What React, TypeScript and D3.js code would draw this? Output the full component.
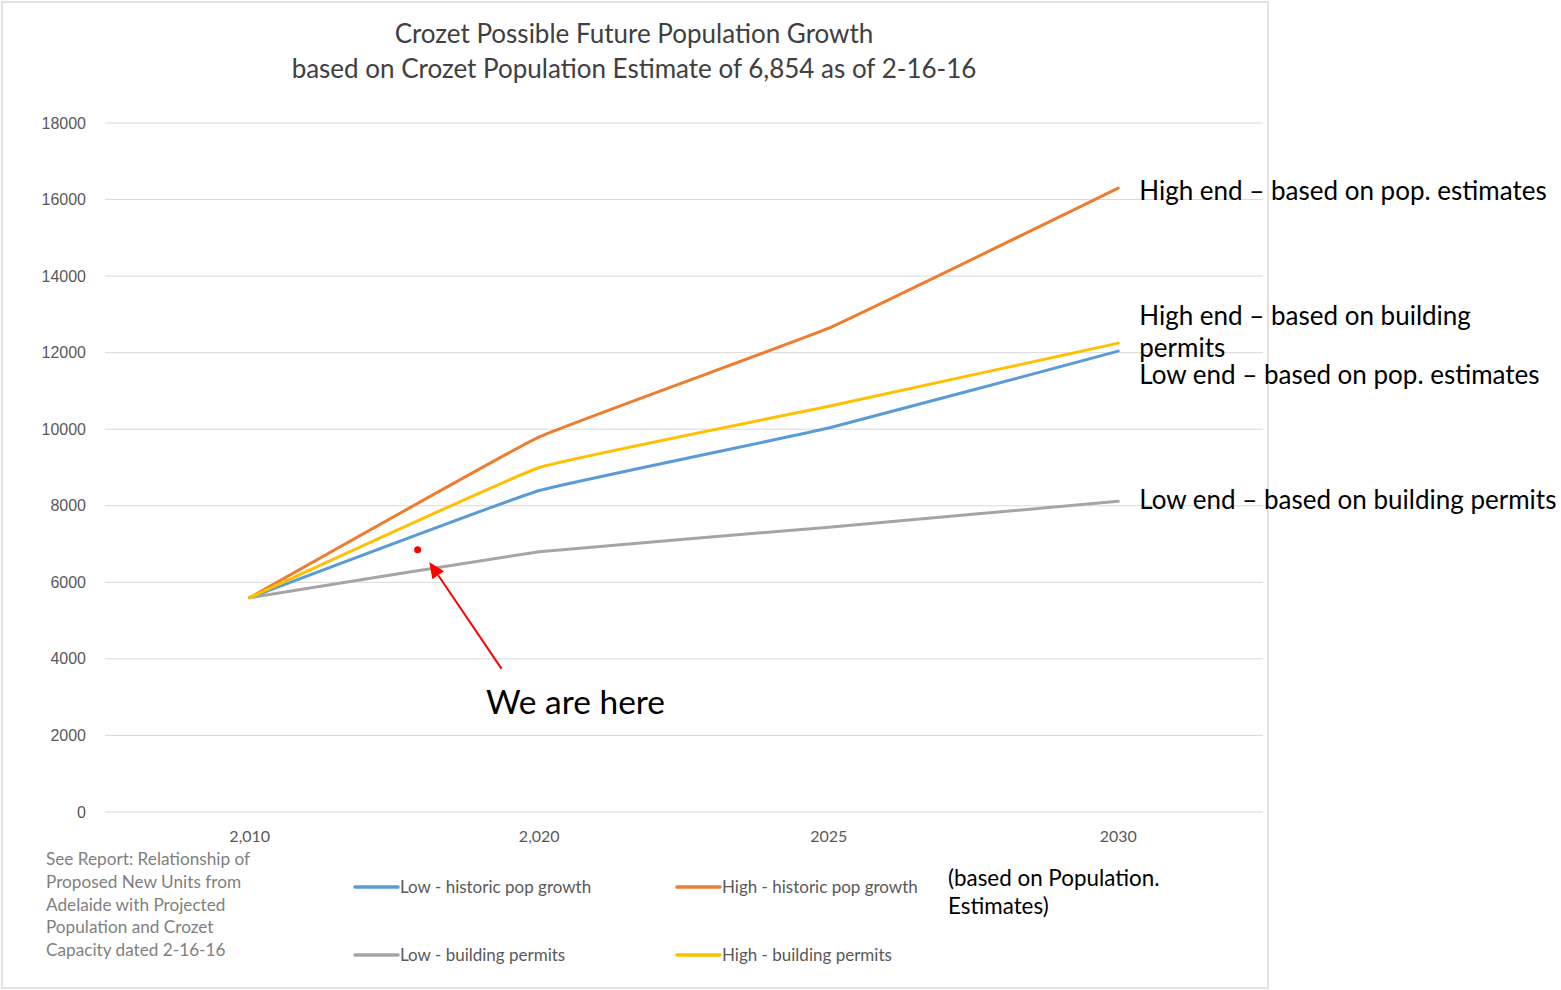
import React from "react";
import * as d3 from "d3";

const years = ["2,010", "2,020", "2025", "2030"];
const lowHistoric = [5600, 8400, 10030, 12040];
const highHistoric = [5600, 9800, 12640, 16300];
const lowPermits = [5600, 6800, 7440, 8120];
const highPermits = [5600, 9000, 10600, 12250];
const yTicks = [0, 2000, 4000, 6000, 8000, 10000, 12000, 14000, 16000, 18000];

const seriesNames = ["Low - historic pop growth", "High - historic pop growth", "Low - building permits", "High - building permits"];
const seriesColors = ["#5B9BD5", "#ED7D31", "#A5A5A5", "#FFC000"];
const seriesValues = [lowHistoric, highHistoric, lowPermits, highPermits];

// annotation text boxes, baseline in data units
const endLabels = [
  { lines: ["High end \u2013 based on pop. estimates"], value: 15990 },
  { lines: ["High end \u2013 based on building", "permits"], value: 12720 },
  { lines: ["Low end \u2013 based on pop. estimates"], value: 11180 },
  { lines: ["Low end \u2013 based on building permits"], value: 7920 },
];

const noteLines = ["See Report: Relationship of", "Proposed New Units from", "Adelaide with Projected", "Population and Crozet", "Capacity dated 2-16-16"];
const hereFraction = 0.58; // position between 2010 and 2020
const herePop = 6854;
const arrowTip = { frac: 0.62, value: 6530 };
const arrowTail = { frac: 0.87, value: 3740 };

export default function App() {
  const W = 1561, H = 990;
  const left = 105, right = 1263, top = 123, bottom = 812;
  const x = d3.scaleBand<string>().domain(years).range([left, right]);
  const xc = (c: string) => (x(c) as number) + x.bandwidth() / 2;
  const y = d3.scaleLinear().domain([0, 18000]).range([bottom, top]);
  const line = d3
    .line<number>()
    .x((_, i) => xc(years[i]))
    .y((d) => y(d))
    .curve(d3.curveCardinal.tension(0.75));
  const x0 = xc(years[0]);
  const x1 = xc(years[1]);
  const fx = (f: number) => x0 + f * (x1 - x0);
  const xEnd = xc(years[3]);

  const tipX = fx(arrowTip.frac), tipY = y(arrowTip.value);
  const tailX = fx(arrowTail.frac), tailY = y(arrowTail.value);
  const ang = Math.atan2(tipY - tailY, tipX - tailX);
  const hl = 16, hw = 7;
  const bx = tipX - hl * Math.cos(ang), by = tipY - hl * Math.sin(ang);
  const head = [
    [tipX, tipY],
    [bx + hw * Math.sin(ang), by - hw * Math.cos(ang)],
    [bx - hw * Math.sin(ang), by + hw * Math.cos(ang)],
  ];

  const font = "Lato, 'Noto Sans', sans-serif";
  const legendPos = [
    [355, 887],
    [677, 887],
    [355, 955],
    [677, 955],
  ];

  return (
    <svg width={W} height={H} style={{ position: "absolute", left: 0, top: 0, background: "#fff" }}>
      <rect x={2} y={2} width={1266} height={986} fill="#fff" stroke="#d9d9d9" strokeWidth={1.5} />
      <text x={634} y={43} textAnchor="middle" fontFamily={font} fontSize={26} fill="#404040">
        Crozet Possible Future Population Growth
      </text>
      <text x={634} y={78} textAnchor="middle" fontFamily={font} fontSize={26} fill="#404040">
        based on Crozet Population Estimate of 6,854 as of 2-16-16
      </text>
      {yTicks.map((t) => (
        <g key={t}>
          <line x1={left} x2={right} y1={y(t)} y2={y(t)} stroke="#d9d9d9" strokeWidth={1} />
          <text x={86} y={y(t) + 5.5} textAnchor="end" fontFamily="'Liberation Sans', Arial, sans-serif" fontSize={16} fill="#595959">
            {t}
          </text>
        </g>
      ))}
      {years.map((c) => (
        <text key={c} x={xc(c)} y={842} textAnchor="middle" fontFamily={font} fontSize={16} fill="#595959">
          {c}
        </text>
      ))}
      {seriesValues.map((vals, i) => (
        <path key={i} d={line(vals) as string} fill="none" stroke={seriesColors[i]} strokeWidth={3} strokeLinecap="round" strokeLinejoin="round" />
      ))}
      <circle cx={fx(hereFraction)} cy={y(herePop)} r={3.5} fill="#FF0000" />
      <line x1={tailX} y1={tailY} x2={bx} y2={by} stroke="#FF0000" strokeWidth={2} />
      <polygon points={head.map((p) => p.join(",")).join(" ")} fill="#FF0000" />
      <text x={486} y={714} fontFamily={font} fontSize={33.5} fill="#000">
        We are here
      </text>
      {endLabels.map((lab, i) => (
        <text key={i} x={xEnd + 21} y={y(lab.value)} fontFamily={font} fontSize={26} fill="#000">
          {lab.lines.map((l, j) => (
            <tspan key={j} x={xEnd + 21} dy={j === 0 ? 0 : 32}>
              {l}
            </tspan>
          ))}
        </text>
      ))}
      {noteLines.map((l, i) => (
        <text key={i} x={46} y={865 + i * 22.8} fontFamily={font} fontSize={17.2} fill="#7f7f7f">
          {l}
        </text>
      ))}
      {seriesNames.map((n, i) => (
        <g key={n}>
          <line x1={legendPos[i][0]} x2={legendPos[i][0] + 43} y1={legendPos[i][1]} y2={legendPos[i][1]} stroke={seriesColors[i]} strokeWidth={3.5} strokeLinecap="round" />
          <text x={legendPos[i][0] + 45} y={legendPos[i][1] + 5.5} fontFamily={font} fontSize={17} fill="#595959">
            {n}
          </text>
        </g>
      ))}
      <text x={948} y={886} fontFamily={font} fontSize={22.4} fill="#000">
        (based on Population.
      </text>
      <text x={948} y={914} fontFamily={font} fontSize={22.4} fill="#000">
        Estimates)
      </text>
    </svg>
  );
}
